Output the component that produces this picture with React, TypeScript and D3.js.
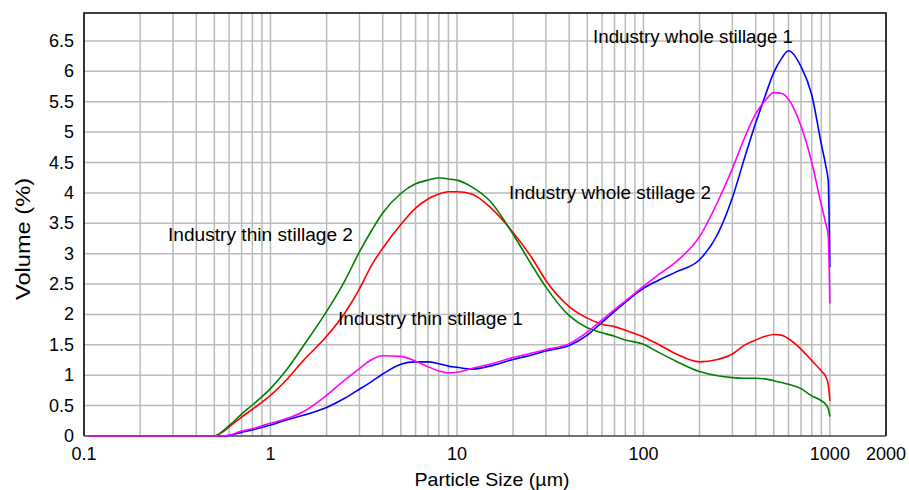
import { useEffect, useRef } from "react";
import * as d3 from "d3";

const width = 909;
const height = 490;
const font = "'Liberation Sans', Arial, Helvetica, sans-serif";

// particle sizes (µm) the curves were read at
const sizes = [
  0.105, 0.5, 0.55, 0.6, 0.7, 0.8, 1, 1.2, 1.5, 2, 2.5, 3, 3.5, 4, 5, 6, 7, 8, 9,
  10, 12, 15, 20, 25, 30, 40, 50, 60, 70, 80, 100, 120, 150, 200, 250, 300, 350,
  400, 450, 500, 550, 600, 700, 800, 900, 950, 980, 1000,
];

const wholeStillage1 = [
  0, 0, 0, 0.01, 0.06, 0.1, 0.18, 0.26, 0.34, 0.47, 0.62, 0.77, 0.9, 1.02, 1.18, 1.22, 1.22, 1.19, 1.15,
  1.13, 1.1, 1.15, 1.26, 1.33, 1.4, 1.49, 1.66, 1.87, 2.05, 2.2, 2.43, 2.56, 2.7, 2.9, 3.32, 3.92, 4.59,
  5.15, 5.6, 5.98, 6.21, 6.34, 6.08, 5.61, 4.8, 4.45, 4.2, 2.78,
];
const wholeStillage2 = [
  0, 0, 0, 0.01, 0.08, 0.12, 0.21, 0.28, 0.4, 0.67, 0.92, 1.11, 1.26, 1.32, 1.31, 1.23, 1.14, 1.07, 1.04,
  1.05, 1.11, 1.18, 1.29, 1.36, 1.42, 1.52, 1.71, 1.91, 2.08, 2.22, 2.46, 2.65, 2.87, 3.28, 3.85, 4.4, 4.92,
  5.3, 5.52, 5.65, 5.64, 5.54, 5.1, 4.5, 3.8, 3.5, 3.3, 2.18,
];
const thinStillage1 = [
  0, 0, 0.06, 0.15, 0.31, 0.44, 0.67, 0.9, 1.24, 1.64, 2.02, 2.42, 2.82, 3.09, 3.48, 3.75, 3.9, 3.98, 4.02,
  4.02, 3.98, 3.77, 3.35, 2.95, 2.56, 2.13, 1.94, 1.84, 1.8, 1.74, 1.63, 1.51, 1.35, 1.22, 1.26, 1.35, 1.5,
  1.58, 1.64, 1.67, 1.66, 1.6, 1.43, 1.24, 1.07, 0.98, 0.85, 0.58,
];
const thinStillage2 = [
  0, 0, 0.07, 0.17, 0.36, 0.51, 0.78, 1.06, 1.48, 2.05, 2.55, 3.03, 3.39, 3.67, 3.99, 4.15, 4.21, 4.25, 4.23,
  4.21, 4.1, 3.87, 3.32, 2.83, 2.45, 1.98, 1.78, 1.7, 1.64, 1.58, 1.51, 1.38, 1.23, 1.06, 0.99, 0.96, 0.95,
  0.95, 0.94, 0.91, 0.88, 0.85, 0.78, 0.66, 0.58, 0.52, 0.45, 0.32,
];

const seriesNames = [
  "Industry whole stillage 1",
  "Industry thin stillage 1",
  "Industry thin stillage 2",
  "Industry whole stillage 2",
];

const xTicks = [0.1, 1, 10, 100, 1000, 2000];
const yTicks = [0, 0.5, 1, 1.5, 2, 2.5, 3, 3.5, 4, 4.5, 5, 5.5, 6, 6.5];

const buildChart = (ref: SVGSVGElement) => {
  const svg = d3.select(ref);
  svg.selectAll("*").remove();

  const x = d3.scaleLog().domain([0.1, 2000]).range([84, 886]);
  const y = d3.scaleLinear().domain([0, 6.96]).range([436, 13]);
  const [x0, x1] = x.range();
  const [y0, y1] = y.range();

  svg.append("rect").attr("width", width).attr("height", height).attr("fill", "white");

  // grid
  const grid = svg.append("g").attr("stroke", "#bbbbbb").attr("stroke-width", 1.5);
  grid
    .selectAll("line.v")
    .data(x.ticks().filter((t) => t > 0.1 && t < 2000))
    .enter()
    .append("line")
    .attr("x1", (d) => x(d))
    .attr("x2", (d) => x(d))
    .attr("y1", y1)
    .attr("y2", y0);
  grid
    .selectAll("line.h")
    .data(yTicks.filter((t) => t > 0))
    .enter()
    .append("line")
    .attr("x1", x0)
    .attr("x2", x1)
    .attr("y1", (d) => y(d))
    .attr("y2", (d) => y(d));

  // frame (drawn under the curves, like the original)
  svg
    .append("path")
    .attr("d", `M${x0},${y0}V${y1}H${x1}V${y0}`)
    .attr("fill", "none")
    .attr("stroke", "black")
    .attr("stroke-width", 1.6);
  svg
    .append("line")
    .attr("x1", x0)
    .attr("x2", x1)
    .attr("y1", y0)
    .attr("y2", y0)
    .attr("stroke", "#444")
    .attr("stroke-width", 1.6);

  // curves
  const data = [
    { name: seriesNames[0], values: wholeStillage1, color: "#0000ff" },
    { name: seriesNames[1], values: thinStillage1, color: "#ff0000" },
    { name: seriesNames[2], values: thinStillage2, color: "#008000" },
    { name: seriesNames[3], values: wholeStillage2, color: "#ff00ff" },
  ];
  const line = d3
    .line<number>()
    .x((_, i) => x(sizes[i]))
    .y((d) => y(d))
    .curve(d3.curveMonotoneX);
  svg
    .append("g")
    .selectAll("path")
    .data(data)
    .enter()
    .append("path")
    .attr("d", (d) => line(d.values))
    .attr("fill", "none")
    .attr("stroke", (d) => d.color)
    .attr("stroke-width", 1.6);

  // tick labels
  svg
    .append("g")
    .selectAll("text")
    .data(yTicks)
    .enter()
    .append("text")
    .attr("x", 74)
    .attr("y", (d) => y(d) + 6)
    .attr("text-anchor", "end")
    .style("font", `18px ${font}`)
    .text((d) => String(d));
  svg
    .append("g")
    .selectAll("text")
    .data(xTicks)
    .enter()
    .append("text")
    .attr("x", (d) => x(d))
    .attr("y", 460)
    .attr("text-anchor", "middle")
    .style("font", `18px ${font}`)
    .text((d) => String(d));

  // axis titles
  svg
    .append("text")
    .attr("x", 492)
    .attr("y", 486)
    .attr("text-anchor", "middle")
    .attr("textLength", 155)
    .attr("lengthAdjust", "spacingAndGlyphs")
    .style("font", `19px ${font}`)
    .text("Particle Size (µm)");
  svg
    .append("text")
    .attr("transform", "translate(30 239) rotate(-90)")
    .attr("text-anchor", "middle")
    .attr("textLength", 122)
    .attr("lengthAdjust", "spacingAndGlyphs")
    .style("font", `20px ${font}`)
    .text("Volume (%)");

  // curve labels
  const labels = [
    { name: seriesNames[0], px: 593, py: 43, w: 200 },
    { name: seriesNames[3], px: 509, py: 199, w: 202 },
    { name: seriesNames[2], px: 168, py: 241, w: 185 },
    { name: seriesNames[1], px: 338, py: 325, w: 185 },
  ];
  svg
    .append("g")
    .selectAll("text")
    .data(labels)
    .enter()
    .append("text")
    .attr("x", (d) => d.px)
    .attr("y", (d) => d.py)
    .attr("textLength", (d) => d.w)
    .attr("lengthAdjust", "spacingAndGlyphs")
    .style("font", `18px ${font}`)
    .text((d) => d.name);
};

export default function App() {
  const ref = useRef<SVGSVGElement>(null);
  useEffect(() => {
    if (ref.current) buildChart(ref.current);
  }, []);
  return (
    <svg
      ref={ref}
      width={width}
      height={height}
      style={{ position: "absolute", left: 0, top: 0 }}
    />
  );
}
